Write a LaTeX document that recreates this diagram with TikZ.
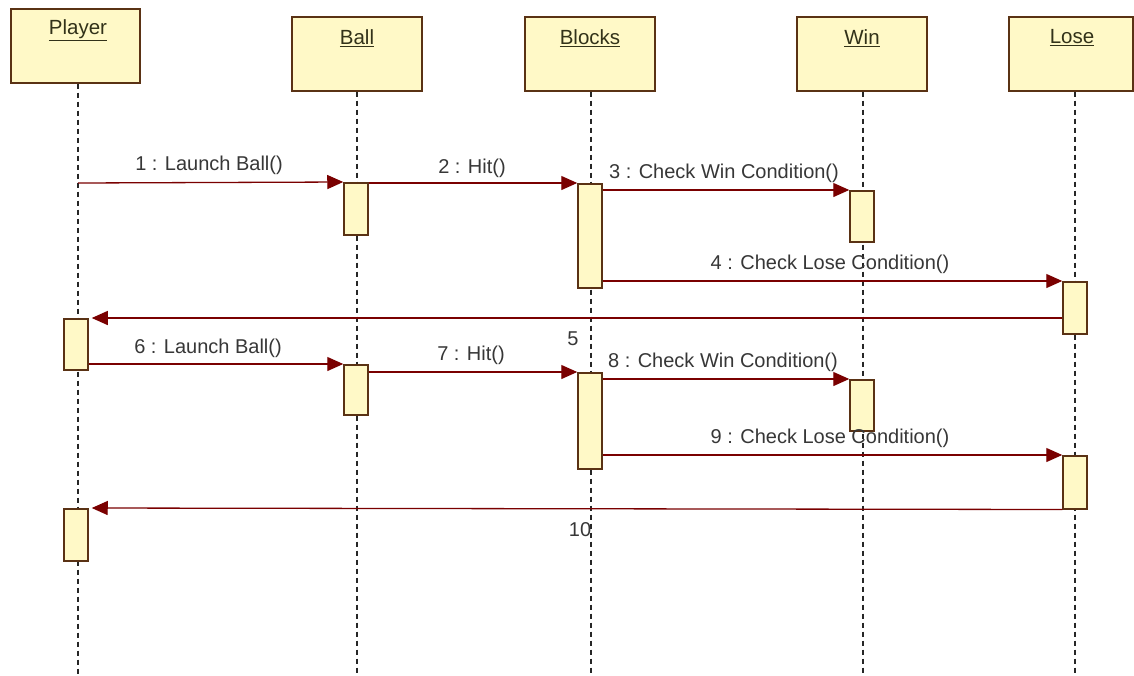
\documentclass[tikz,border=0pt]{standalone}
\usepackage{fontspec}
\setmainfont{Liberation Sans}
\usetikzlibrary{arrows.meta}
\definecolor{yel}{RGB}{255,249,199}
\definecolor{brd}{RGB}{90,50,20}
\definecolor{msg}{RGB}{122,0,0}
\definecolor{txt}{RGB}{55,55,55}
\definecolor{htxt}{RGB}{50,50,25}
\begin{document}
\begin{tikzpicture}[x=1pt,y=-1pt,
 hdr/.style={draw=brd, fill=yel, line width=1.6pt, minimum width=130pt, minimum height=74pt, inner sep=0pt, anchor=north},
 htext/.style={text=htxt, font=\fontsize{20.5}{24}\selectfont, inner sep=0pt},
 life/.style={draw=black!85, line width=2pt, dash pattern=on 5pt off 4pt},
 act/.style={draw=brd, fill=yel, line width=1.5pt, minimum width=24pt, inner sep=0pt, anchor=north},
 msgline/.style={draw=msg, line width=1.3pt, -{Triangle[length=16pt,width=14pt]}},
 mlabel/.style={text=txt, font=\fontsize{20}{24}\selectfont, inner sep=0pt},
]
\useasboundingbox[fill=white] (0,0) rectangle (1134,675);

% headers
\node[hdr, minimum width=129pt] (hp) at (75.5,8) {};
\node[hdr] (hb) at (357,16) {};
\node[hdr] (hk) at (590,16) {};
\node[hdr] (hw) at (862,16) {};
\node[hdr, minimum width=124pt] (hl) at (1071,16) {};

\node[htext] (tp) at (78,30) {\underline{Player}};
\node[htext] (tb) at (357,38) {\underline{Ball}};
\node[htext] (tk) at (590,38) {\underline{Blocks}};
\node[htext] (tw) at (862,38) {\underline{Win}};
\node[htext] (tl) at (1072,38) {\underline{Lose}};

% lifeline ends
\coordinate (ep) at (78,675);
\coordinate (eb) at (357,675);
\coordinate (ek) at (591,675);
\coordinate (ew) at (863,675);
\coordinate (el) at (1075,675);

\draw[life] (hp.south -| ep) -- (ep);
\draw[life] (hb.south -| eb) -- (eb);
\draw[life] (hk.south -| ek) -- (ek);
\draw[life] (hw.south -| ew) -- (ew);
\draw[life] (hl.south -| el) -- (el);

% activations
\coordinate (pstart) at (78,183);
\node[act, minimum height=52pt] (ba1) at (356,182) {};
\node[act, minimum height=104pt] (bk1) at (590,183) {};
\node[act, minimum height=51pt] (aw1) at (862,190) {};
\node[act, minimum height=52pt] (al1) at (1075,281) {};
\node[act, minimum height=51pt] (ap1) at (76,318) {};
\node[act, minimum height=50pt] (ba2) at (356,364) {};
\node[act, minimum height=96pt] (bk2) at (590,372) {};
\node[act, minimum height=51pt] (aw2) at (862,379) {};
\node[act, minimum height=53pt] (al2) at (1075,455) {};
\node[act, minimum height=52pt] (ap2) at (76,508) {};

% messages
\draw[msgline] (pstart) -- (ba1.north west);
\draw[msgline] (ba1.east |- bk1.north) -- (bk1.north west);
\draw[msgline] (bk1.east |- aw1.north) -- (aw1.north west);
\draw[msgline] (bk1.east |- al1.north) -- (al1.north west);
\draw[msgline, shorten >=3pt] (al1.west |- ap1.north) -- (ap1.north east);
\draw[msgline] (ap1.east |- ba2.north) -- (ba2.north west);
\draw[msgline] (ba2.east |- bk2.north) -- (bk2.north west);
\draw[msgline] (bk2.east |- aw2.north) -- (aw2.north west);
\draw[msgline] (bk2.east |- al2.north) -- (al2.north west);
\draw[msgline, shorten >=3pt] (al2.south west) -- (ap2.north east);

% labels
\node[mlabel] (m1) at (209,165) {1 : Launch Ball()};
\node[mlabel] (m2) at (472,168) {2 : Hit()};
\node[mlabel] (m3) at (724,173) {3 : Check Win Condition()};
\node[mlabel] (m4) at (830,264) {4 : Check Lose Condition()};
\node[mlabel] (m5) at (573,339) {5};
\node[mlabel] (m6) at (208,348) {6 : Launch Ball()};
\node[mlabel] (m7) at (471,355) {7 : Hit()};
\node[mlabel] (m8) at (723,362) {8 : Check Win Condition()};
\node[mlabel] (m9) at (830,438) {9 : Check Lose Condition()};
\node[mlabel] (m10) at (580,530) {10};
\end{tikzpicture}
\end{document}
